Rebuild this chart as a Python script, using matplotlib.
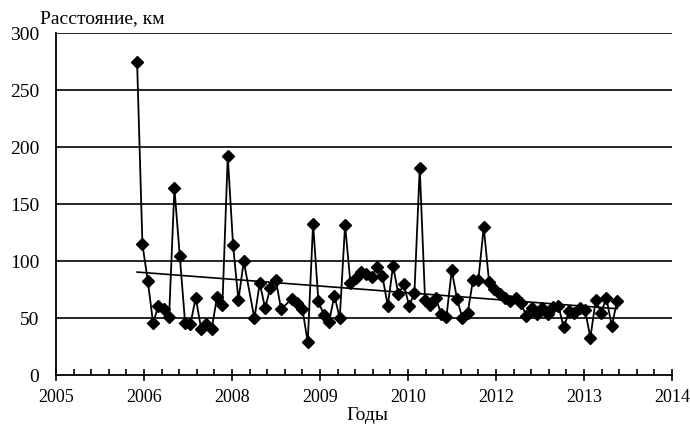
import numpy as np
import matplotlib
matplotlib.use("Agg")
import matplotlib.pyplot as plt

# Monthly distance observations, km (two months have no record)
distance_km = [
    275, 115, 83, 46, 61, 58, 51, 164, 105, 46, 45, 68, 41, 45, 41, 69, 62,
    192, 114, 66, 100, 50, 81, 59, 77, 84, 58, 67, 63, 58, 29, 133, 65, 53,
    47, 70, 50, 132, 81, 85, 91, 89, 86, 95, 87, 61, 96, 71, 80, 61, 72,
    182, 66, 62, 68, 54, 51, 92, 67, 50, 55, 84, 84, 130, 82, 76, 71, 68,
    65, 68, 63, 52, 59, 54, 59, 54, 60, 61, 42, 56, 55, 59, 57, 33, 66,
    55, 68, 43, 65,
]
missing_months = [21, 28]
month_index = np.array([m for m in range(len(distance_km) + len(missing_months))
                        if m not in missing_months])

# Year labels placed on evenly spaced major ticks
year_labels = ["2005", "2006", "2008", "2009", "2010", "2012", "2013", "2014"]
y_ticks = [0, 50, 100, 150, 200, 250, 300]

plt.rcParams["font.family"] = ["Liberation Serif", "DejaVu Serif"]

fig = plt.figure(figsize=(6.9, 4.26), dpi=100)
ax = fig.add_axes([0.0812, 0.119, 0.8927, 0.8028])

# axis measured in months: 16.5 months per major division
step = 16.5
x0 = -15.2
major = x0 + step * np.arange(len(year_labels))
minor = x0 + step / 5 * np.arange(5 * (len(year_labels) - 1) + 1)

ax.set_xlim(major[0], major[-1])
ax.set_ylim(0, 300)

for v in y_ticks[1:]:
    ax.axhline(v, color="black", lw=1.2, zorder=1)

y = np.array(distance_km, dtype=float)
ax.plot(month_index, y, color="black", lw=1.3, marker="D", ms=6,
        mfc="black", mec="black", zorder=3)

# linear trend line fitted to the series
k, c = np.polyfit(month_index, y, 1)
ax.plot(month_index[[0, -1]], k * month_index[[0, -1]] + c,
        color="black", lw=1.2, zorder=2)

ax.set_xticks(major)
ax.set_xticklabels(year_labels, fontsize=13)
ax.set_xticks(minor, minor=True)
ax.set_yticks(y_ticks)
ax.set_yticklabels([str(v) for v in y_ticks], fontsize=14)

ax.tick_params(axis="x", which="major", direction="inout", length=8, width=1.2, pad=6)
ax.tick_params(axis="x", which="minor", direction="in", length=4, width=1.2)
ax.tick_params(axis="y", which="major", direction="out", length=0, pad=12)

for side in ("top", "right"):
    ax.spines[side].set_visible(False)
for side in ("left", "bottom"):
    ax.spines[side].set_linewidth(1.3)

fig.text(0.058, 0.957, "Расстояние, км", fontsize=14, ha="left", va="center")
fig.text(0.532, 0.024, "Годы", fontsize=14, ha="center", va="center")

fig.savefig("out.png", dpi=100)
